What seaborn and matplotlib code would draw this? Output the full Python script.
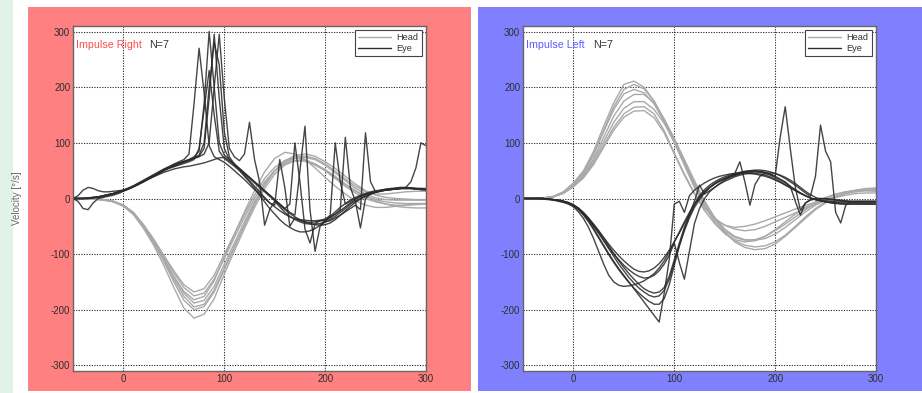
import numpy as np
import pandas as pd
import seaborn as sns
import matplotlib.pyplot as plt
from matplotlib.lines import Line2D
from matplotlib.patches import Rectangle

# ---------------------------------------------------------------- data
# head traces sampled every 10 ms, eye traces every 5 ms (time in ms, velocity in deg/s)
t_head = list(range(-50, 301, 10))
t_eye = list(range(-50, 301, 5))

# Impulse Right: head velocity (negative lobe)
right_head_1 = [0, 0, -1, -2, -5, -12, -26, -48, -74, -102, -130, -155, -168, -162, -138, -100, -64, -28, 6, 36, 56, 68, 72, 70, 62, 50, 36, 22, 10, 0, -6, -10, -12, -12, -11, -10]
right_head_2 = [0, 0, -1, -2, -5, -12, -25, -47, -73, -103, -134, -160, -175, -170, -145, -108, -70, -34, 0, 30, 50, 62, 68, 67, 60, 50, 38, 25, 13, 4, -2, -6, -8, -9, -9, -9]
right_head_3 = [0, 0, -1, -2, -5, -13, -27, -50, -77, -108, -140, -167, -182, -176, -148, -105, -64, -24, 14, 48, 72, 83, 80, 70, 55, 38, 22, 8, -4, -12, -16, -16, -14, -12, -10, -9]
right_head_4 = [0, 0, -1, -2, -5, -12, -26, -49, -76, -107, -141, -170, -188, -183, -158, -118, -80, -42, -6, 26, 50, 64, 72, 74, 70, 60, 46, 32, 18, 8, 1, -2, -3, -3, -3, -3]
right_head_5 = [0, 0, -1, -2, -6, -13, -27, -50, -78, -110, -145, -176, -195, -190, -165, -125, -86, -48, -10, 24, 50, 66, 75, 76, 72, 62, 49, 35, 22, 12, 8, 8, 10, 12, 13, 13]
right_head_6 = [0, 0, -1, -2, -6, -13, -28, -52, -80, -113, -150, -183, -200, -194, -168, -128, -88, -48, -10, 24, 50, 68, 77, 80, 76, 66, 54, 40, 26, 14, 6, 2, 0, -1, -2, -2]
right_head_7 = [0, 0, -1, -3, -6, -14, -29, -54, -84, -120, -160, -197, -215, -208, -180, -136, -94, -54, -16, 18, 44, 60, 68, 68, 62, 52, 40, 26, 14, 4, -4, -10, -14, -16, -17, -17]

# Impulse Right: eye velocity (compensatory, with catch-up saccades)
right_eye_1 = [0, 0, 0, 1, 2, 3, 5, 7, 9, 12,
               15, 18, 22, 27, 31, 35, 39, 43, 47, 50,
               53, 55, 57, 58, 60, 62, 64, 67, 70, 73,
               74, 68, 60, 52, 44, 36, 28, 20, 12, 4,
               -4, -12, -20, -27, -33, -38, -42, -45, -47, -48,
               -47, -44, -38, -30, -22, -14, -7, -1, 4, 8,
               11, 13, 15, 16, 17, 18, 18, 18, 17, 16,
               16]
right_eye_2 = [0, -5, -18, -20, -8, 0, 2, 4, 6, 9,
               13, 17, 22, 27, 32, 37, 42, 47, 52, 57,
               62, 66, 70, 80, 170, 270, 190, 95, 75, 70,
               65, 58, 50, 42, 34, 25, 16, 8, 0, -8,
               -12, 70, 20, -50, -35, -40, -42, -43, -42, -40,
               -38, -30, 100, 30, -10, -5, 0, 4, 8, 10,
               12, 14, 15, 16, 17, 18, 18, 18, 17, 17,
               16]
right_eye_3 = [0, 5, 15, 20, 18, 14, 12, 12, 13, 14,
               15, 18, 22, 26, 31, 36, 41, 46, 51, 55,
               58, 62, 66, 70, 75, 85, 170, 300, 200, 100,
               78, 70, 62, 54, 46, 38, 30, 22, 14, 6,
               -2, -10, -18, -10, 100, 30, -55, -80, -45, -40,
               -40, -35, -28, -20, 110, 20, -5, 0, 4, 8,
               11, 13, 15, 16, 17, 18, 18, 18, 17, 16,
               15]
right_eye_4 = [0, 0, 0, 0, 1, 2, 4, 6, 9, 12,
               15, 19, 23, 28, 33, 38, 43, 48, 53, 57,
               60, 64, 67, 70, 72, 76, 90, 180, 295, 180,
               90, 70, 62, 54, 46, 38, 30, 22, 14, 6,
               -2, -10, -18, -25, -30, 50, 130, -20, -95, -50,
               -42, -40, -35, -30, -24, -18, -12, -20, 118, 30,
               12, 14, 16, 17, 18, 19, 19, 19, 18, 18,
               17]
right_eye_5 = [0, 0, 0, 1, 2, 3, 5, 7, 9, 12,
               15, 18, 22, 26, 30, 35, 40, 45, 50, 55,
               60, 63, 66, 68, 72, 75, 80, 100, 200, 295,
               180, 90, 75, 68, 80, 137, 70, 30, -48, -20,
               -5, -15, -25, -32, -38, -42, -45, -46, -46, -45,
               -42, -38, -32, -25, -18, -10, -5, -53, 0, 8,
               12, 15, 17, 18, 19, 20, 20, 19, 18, 17,
               16]
right_eye_6 = [0, 0, 0, 1, 2, 3, 5, 7, 9, 11,
               14, 17, 21, 26, 31, 36, 41, 46, 51, 55,
               58, 62, 65, 69, 73, 78, 100, 200, 280, 240,
               120, 75, 62, 52, 42, 32, 22, 12, 2, -8,
               -15, -22, -28, -33, -36, -38, -39, -40, -40, -39,
               -37, -33, -28, -22, -15, -8, -2, 3, 7, 10,
               12, 14, 15, 16, 17, 18, 20, 30, 55, 100,
               95]
right_eye_7 = [0, 0, 0, 0, 1, 2, 4, 6, 8, 11,
               14, 17, 21, 25, 30, 35, 40, 45, 50, 54,
               57, 60, 63, 66, 70, 90, 160, 230, 150, 85,
               72, 65, 58, 50, 40, 30, 18, 6, -6, -18,
               -28, -38, -46, -52, -57, -60, -60, -58, -54, -48,
               -40, -32, -24, -16, -9, -3, 2, 6, 9, 12,
               14, 15, 16, 17, 18, 19, 19, 19, 18, 18,
               18]

# Impulse Left: head velocity (positive lobe)
left_head_1 = [0, 0, 1, 4, 12, 28, 50, 85, 130, 172, 205, 211, 200, 175, 140, 102, 62, 22, -14, -42, -62, -74, -78, -76, -68, -56, -42, -28, -16, -6, 2, 8, 12, 14, 14, 13]
left_head_2 = [0, 0, 1, 3, 11, 26, 47, 80, 123, 165, 196, 205, 197, 175, 142, 104, 65, 26, -10, -38, -58, -70, -75, -74, -68, -58, -46, -33, -20, -9, 0, 7, 12, 15, 16, 16]
left_head_3 = [0, 0, 1, 3, 10, 24, 43, 72, 110, 148, 175, 187, 187, 172, 143, 108, 70, 32, -4, -35, -60, -78, -88, -92, -90, -82, -68, -52, -36, -20, -8, 2, 9, 14, 17, 18]
left_head_4 = [0, 0, 1, 3, 10, 23, 41, 68, 102, 137, 162, 174, 174, 160, 135, 102, 66, 28, -6, -34, -55, -68, -74, -75, -72, -64, -52, -38, -24, -12, -3, 4, 9, 12, 14, 14]
left_head_5 = [0, 0, 1, 3, 10, 22, 39, 64, 96, 128, 152, 164, 165, 152, 122, 82, 44, 10, -18, -36, -48, -55, -58, -56, -50, -42, -34, -26, -18, -10, -4, 2, 6, 9, 10, 10]
left_head_6 = [0, 0, 1, 3, 9, 21, 37, 61, 92, 123, 146, 157, 158, 145, 118, 80, 42, 8, -22, -45, -63, -76, -84, -87, -85, -78, -66, -50, -33, -18, -6, 3, 10, 15, 18, 19]
left_head_7 = [0, 0, 1, 3, 11, 25, 46, 78, 120, 160, 188, 196, 190, 170, 138, 100, 60, 20, -14, -36, -48, -52, -50, -46, -40, -33, -26, -19, -12, -7, -4, -4, -6, -8, -9, -10]

# Impulse Left: eye velocity
left_eye_1 = [0, 0, 0, 0, 0, -1, -2, -3, -5, -8,
              -12, -18, -26, -36, -47, -58, -70, -82, -93, -103,
              -112, -120, -127, -131, -132, -130, -125, -117, -106, -93,
              -78, -62, -45, -28, -5, 24, 8, 14, 20, 26,
              31, 35, 39, 42, 44, 45, 45, 44, 42, 39,
              35, 30, 25, 20, 15, 10, 5, 1, -2, -4,
              -6, -7, -8, -8, -8, -8, -8, -8, -8, -8,
              -8]
left_eye_2 = [0, 0, 0, 0, 0, -1, -2, -3, -5, -8,
              -13, -19, -28, -38, -50, -62, -75, -88, -100, -110,
              -120, -128, -135, -140, -143, -142, -138, -130, -118, -102,
              -80, -115, -145, -95, -45, -18, 0, 12, 20, 27,
              33, 38, 42, 45, 47, 48, 48, 47, 45, 42,
              38, 33, 28, 22, 16, 10, 5, 1, -2, -4,
              -6, -8, -9, -10, -10, -10, -10, -10, -10, -10,
              -10]
left_eye_3 = [0, 0, 0, 0, -1, -2, -3, -5, -7, -10,
              -15, -24, -36, -52, -72, -95, -118, -138, -150, -156,
              -158, -157, -155, -152, -148, -142, -135, -125, -112, -96,
              -78, -60, -42, -25, -10, 2, 12, 20, 27, 32,
              36, 40, 45, 66, 30, -12, 25, 40, 45, 46,
              45, 42, 38, 33, 27, 20, 13, 7, 2, -2,
              -4, -5, -6, -6, -6, -6, -6, -6, -6, -6,
              -6]
left_eye_4 = [0, 0, 0, 0, 0, -1, -2, -3, -5, -7,
              -11, -17, -25, -35, -46, -58, -71, -85, -99, -112,
              -124, -135, -145, -154, -162, -167, -170, -168, -160, -140,
              -110, -80, -52, -30, -12, 2, 12, 20, 26, 31,
              35, 38, 41, 44, 46, 47, 48, 48, 47, 44,
              40, 110, 165, 90, 20, -21, -8, -3, -1, 0,
              0, -1, -2, -3, -4, -5, -5, -5, -5, -5,
              -5]
left_eye_5 = [0, 0, 0, 0, 0, -1, -2, -3, -5, -8,
              -12, -18, -27, -37, -49, -62, -76, -90, -104, -118,
              -130, -142, -152, -161, -168, -174, -177, -175, -165, -145,
              -115, -85, -58, -35, -16, -2, 10, 19, 26, 32,
              36, 40, 43, 46, 48, 50, 51, 51, 50, 48,
              45, 41, 36, 30, 24, 17, 10, 4, 40, 132,
              85, 66, -25, -44, -12, -6, -6, -6, -6, -6,
              -6]
left_eye_6 = [0, 0, 0, 0, 0, -1, -2, -4, -6, -9,
              -13, -20, -30, -42, -56, -71, -86, -101, -115, -128,
              -140, -151, -161, -170, -178, -185, -190, -190, -180, -155,
              -120, -85, -55, -30, -10, 5, 16, 24, 30, 35,
              39, 42, 45, 47, 49, 50, 50, 49, 47, 44,
              40, 35, 30, 22, -5, -30, -8, -2, 0, 0,
              -1, -2, -3, -4, -5, -5, -5, -5, -5, -5,
              -5]
left_eye_7 = [0, 0, 0, 0, 0, -1, -2, -3, -5, -8,
              -12, -19, -28, -40, -54, -69, -84, -99, -113, -126,
              -138, -150, -162, -174, -186, -198, -210, -222, -170, -110,
              -10, -5, -25, 5, 15, 22, 28, 33, 37, 40,
              42, 44, 45, 46, 46, 45, 44, 42, 40, 37,
              33, 29, 24, 19, 14, 9, 5, 1, -2, -4,
              -6, -7, -8, -9, -10, -10, -10, -10, -10, -10,
              -10]

panels = [
    {
        "title": "Impulse Right", "n": "N=7", "color": "#ff4d4d", "bg": "#ff8080",
        "head": [right_head_1, right_head_2, right_head_3, right_head_4, right_head_5, right_head_6, right_head_7],
        "eye": [right_eye_1, right_eye_2, right_eye_3, right_eye_4, right_eye_5, right_eye_6, right_eye_7],
    },
    {
        "title": "Impulse Left", "n": "N=7", "color": "#5c5cff", "bg": "#8080ff",
        "head": [left_head_1, left_head_2, left_head_3, left_head_4, left_head_5, left_head_6, left_head_7],
        "eye": [left_eye_1, left_eye_2, left_eye_3, left_eye_4, left_eye_5, left_eye_6, left_eye_7],
    },
]

x_ticks = [0, 100, 200, 300]
y_ticks = [-300, -200, -100, 0, 100, 200, 300]

HEAD_COLOR = "#a9a9a9"
EYE_COLOR = "#2b2b2b"


def long_frame(panel):
    rows = []
    for i, tr in enumerate(panel["head"]):
        rows.append(pd.DataFrame({"t": t_head, "v": tr, "signal": "Head", "trace": f"h{i}"}))
    for i, tr in enumerate(panel["eye"]):
        rows.append(pd.DataFrame({"t": t_eye, "v": tr, "signal": "Eye", "trace": f"e{i}"}))
    return pd.concat(rows, ignore_index=True)


# ---------------------------------------------------------------- figure
sns.set_theme(style="white")
plt.rcParams["font.family"] = ["Liberation Sans", "DejaVu Sans"]

W, H = 922, 393
fig = plt.figure(figsize=(W / 100, H / 100), dpi=100)
fig.patch.set_facecolor("white")


def px_rect(x0, y0, x1, y1, color):
    fig.patches.append(Rectangle((x0 / W, 1 - y1 / H), (x1 - x0) / W, (y1 - y0) / H,
                                 transform=fig.transFigure, facecolor=color,
                                 edgecolor="none", zorder=-10))


px_rect(0, 0, 13, H, "#e1f2e9")
px_rect(28, 7, 471, 391, panels[0]["bg"])
px_rect(478, 7, 922, 391, panels[1]["bg"])

axes_px = [(73, 26, 426, 371), (523, 26, 876, 371)]

for k, (panel, (x0, y0, x1, y1)) in enumerate(zip(panels, axes_px)):
    ax = fig.add_axes([x0 / W, 1 - y1 / H, (x1 - x0) / W, (y1 - y0) / H])
    ax.set_facecolor("white")
    df = long_frame(panel)

    sns.lineplot(data=df[df.signal == "Head"], x="t", y="v", units="trace",
                 estimator=None, color=HEAD_COLOR, lw=1.0, ax=ax, legend=False,
                 sort=False)
    sns.lineplot(data=df[df.signal == "Eye"], x="t", y="v", units="trace",
                 estimator=None, color=EYE_COLOR, lw=1.0, ax=ax, legend=False,
                 sort=False, alpha=0.88)

    ax.set_xlim(-50, 300)
    ax.set_ylim(-310, 310)
    ax.set_xticks(x_ticks)
    ax.set_yticks(y_ticks)
    ax.set_xticklabels([str(v) for v in x_ticks])
    ax.set_yticklabels([str(v) for v in y_ticks])
    ax.tick_params(axis="both", labelsize=7, colors="#2e2e2e", direction="in",
                   length=2, width=0.6, pad=2)
    ax.grid(True, color="#303030", linestyle=(0, (1.2, 1.3)), linewidth=0.75)
    ax.set_axisbelow(True)
    for sp in ax.spines.values():
        sp.set_color("#666666")
        sp.set_linewidth(1.0)
        sp.set_visible(True)

    ax.set_xlabel("")
    if k == 0:
        ax.set_ylabel("Velocity [°/s]", fontsize=7, color="#666666")
        ax.yaxis.set_label_coords(-0.145, 0.5)
    else:
        ax.set_ylabel("")

    ax.text(0.008, 0.945, panel["title"], transform=ax.transAxes, fontsize=7.7,
            color=panel["color"], ha="left", va="center")
    ax.text(0.215 if k == 0 else 0.2, 0.945, panel["n"], transform=ax.transAxes,
            fontsize=7.7, color="#333333", ha="left", va="center")

    handles = [Line2D([], [], color=HEAD_COLOR, lw=1.0),
               Line2D([], [], color=EYE_COLOR, lw=1.0)]
    leg = ax.legend(handles, ["Head", "Eye"], loc="upper right", fontsize=6.6,
                    frameon=True, fancybox=False, framealpha=1, edgecolor="#444444",
                    borderpad=0.35, labelspacing=0.2, handlelength=3.6,
                    handletextpad=0.6, borderaxespad=0.45)
    leg.get_frame().set_linewidth(0.8)
    for txt in leg.get_texts():
        txt.set_color("#333333")

fig.savefig("out.png", dpi=100, facecolor=fig.get_facecolor())
